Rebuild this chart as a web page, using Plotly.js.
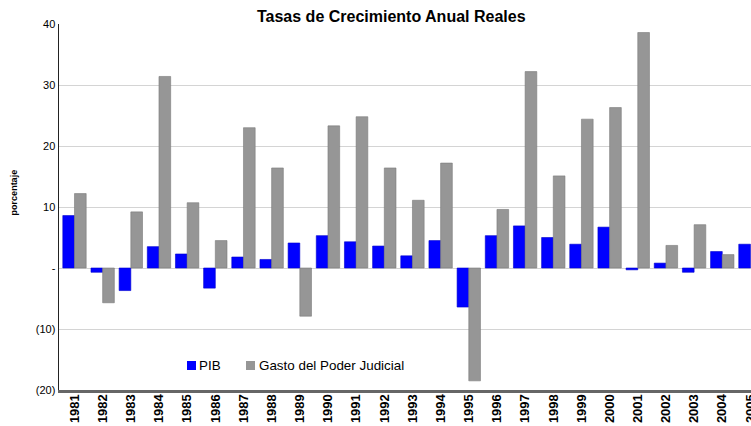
<!DOCTYPE html>
<html>
<head>
<meta charset="utf-8">
<script src="https://cdn.plot.ly/plotly-3.0.1.min.js"></script>
<style>html,body{margin:0;padding:0;background:#fff;}</style>
</head>
<body>
<div id="chart" style="width:751px;height:426px;"></div>
<script>
const years = ["1981","1982","1983","1984","1985","1986","1987","1988","1989","1990","1991","1992","1993","1994","1995","1996","1997","1998","1999","2000","2001","2002","2003","2004","2005"];
const pib = [8.6, -0.7, -3.7, 3.5, 2.3, -3.3, 1.8, 1.4, 4.1, 5.3, 4.3, 3.6, 2.0, 4.5, -6.4, 5.3, 6.9, 5.0, 3.9, 6.7, -0.3, 0.8, -0.7, 2.7, 3.9];
const gasto = [12.2, -5.7, 9.2, 31.4, 10.7, 4.5, 23.0, 16.4, -7.9, 23.3, 24.8, 16.4, 11.1, 17.2, -18.5, 9.6, 32.2, 15.1, 24.4, 26.3, 38.6, 3.7, 7.1, 2.2, null];
const yTickVals = [40, 30, 20, 10, 0, -10, -20];
const yTickText = ["40", "30", "20", "10", "-", "(10)", "(20)"];
const seriesNames = ["PIB", "Gasto del Poder Judicial"];
const seriesColors = ["#0000ff", "#969696"];

const data = [
  {type: "bar", name: seriesNames[0], x: years, y: pib, showlegend: false,
   marker: {color: seriesColors[0], line: {color: "#0000cc", width: 0.6}}},
  {type: "bar", name: seriesNames[1], x: years, y: gasto, showlegend: false,
   marker: {color: seriesColors[1], line: {color: "#7a7a7a", width: 0.6}}}
];

const legendSquareX = [0.1915, 0.2767];
const legendTextX = [0.2009, 0.2876];
const legendY = 0.067;
const legendAnn = [];
seriesNames.forEach((n, i) => {
  legendAnn.push({xref: "paper", yref: "paper", x: legendSquareX[i], y: legendY,
    xanchor: "center", yanchor: "middle", showarrow: false, text: " ",
    font: {size: 2}, width: 9, height: 9, borderpad: 0, borderwidth: 0, bgcolor: seriesColors[i]});
  legendAnn.push({xref: "paper", yref: "paper", x: legendTextX[i], y: legendY,
    xanchor: "left", yanchor: "middle", showarrow: false, text: n, borderpad: 0,
    font: {size: 13.4, color: "#000", family: "Liberation Sans, Arial, sans-serif"}});
});

const layout = {
  width: 751, height: 426,
  margin: {l: 59, r: 0, t: 24, b: 36},
  paper_bgcolor: "#ffffff", plot_bgcolor: "#ffffff",
  font: {family: "Liberation Sans, Arial, sans-serif", color: "#000"},
  title: {text: "<b>Tasas de Crecimiento Anual Reales</b>", x: 0.521, xanchor: "center", y: 0.962, yanchor: "middle",
          font: {size: 16, color: "#000"}},
  barmode: "group", bargap: 0.17, bargroupgap: 0,
  xaxis: {type: "category", range: [-0.55, 24.02], showgrid: false, zeroline: false,
          tickangle: -90, tickfont: {size: 13, color: "#000", weight: "bold", family: "Liberation Sans, Arial, sans-serif"},
          ticklabelstandoff: -4,
          ticks: "", showline: true, linecolor: "#666", linewidth: 3, automargin: false, fixedrange: true},
  yaxis: {range: [-20, 40], tickvals: yTickVals, ticktext: yTickText,
          tickfont: {size: 11, color: "#000"}, showgrid: true, gridcolor: "#d4d4d4", gridwidth: 1,
          zeroline: true, zerolinecolor: "#d4d4d4", zerolinewidth: 1,
          showline: true, linecolor: "#222", linewidth: 1.5, ticks: "", automargin: false},
  annotations: legendAnn.concat([{
    xref: "paper", yref: "paper", x: -0.065, y: 0.54, xanchor: "center", yanchor: "middle",
    showarrow: false, textangle: -90, text: "<b>porcentaje</b>",
    font: {size: 9, color: "#000", family: "Liberation Sans, Arial, sans-serif"}
  }]),
  showlegend: false
};

Plotly.newPlot("chart", data, layout, {displayModeBar: false, staticPlot: true});
</script>
</body>
</html>
